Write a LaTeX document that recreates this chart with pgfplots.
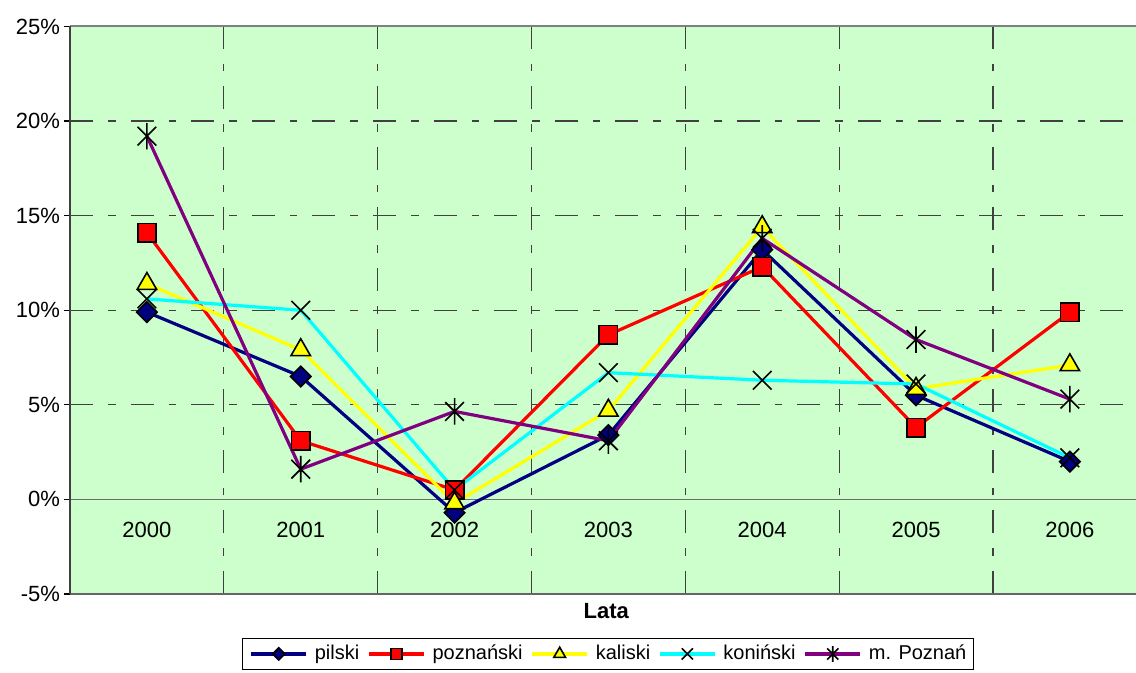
\documentclass[border=0pt]{standalone}
\usepackage{fontspec}
\setmainfont{Liberation Sans}
\usepackage{pgfplots}
\pgfplotsset{compat=1.18}
\definecolor{plotbg}{HTML}{CCFFCC}
\definecolor{gridc}{HTML}{404040}
\definecolor{pilc}{HTML}{000080}
\definecolor{pozc}{HTML}{FF0000}
\definecolor{kalc}{HTML}{FFFF00}
\definecolor{konc}{HTML}{00FFFF}
\definecolor{mpc}{HTML}{800080}
\makeatletter
\pgfdeclareplotmark{xstar}{%
  \pgfpathmoveto{\pgfqpoint{-.70710678\pgfplotmarksize}{-.70710678\pgfplotmarksize}}%
  \pgfpathlineto{\pgfqpoint{.70710678\pgfplotmarksize}{.70710678\pgfplotmarksize}}%
  \pgfpathmoveto{\pgfqpoint{-.70710678\pgfplotmarksize}{.70710678\pgfplotmarksize}}%
  \pgfpathlineto{\pgfqpoint{.70710678\pgfplotmarksize}{-.70710678\pgfplotmarksize}}%
  \pgfpathmoveto{\pgfqpoint{0pt}{-\pgfplotmarksize}}%
  \pgfpathlineto{\pgfqpoint{0pt}{\pgfplotmarksize}}%
  \pgfusepathqstroke
}
\makeatother
\begin{document}
\begin{tikzpicture}[font=\fontsize{11pt}{13pt}\selectfont]
\useasboundingbox (0,0) rectangle (568pt,336.5pt);
\begin{axis}[
  at={(35pt,39.5pt)}, anchor=south west,
  scale only axis, width=533pt, height=283.75pt,
  xmin=-0.5, xmax=6.43, ymin=-5, ymax=25,
  axis background/.style={fill=plotbg},
  axis line style={draw=none},
  xtick={0,...,6},
  xticklabels={2000,2001,2002,2003,2004,2005,2006},
  major x tick style={draw=none},
  xticklabel style={anchor=center, yshift=35pt},
  minor xtick={0.5,1.5,2.5,3.5,4.5,5.5},
  xminorgrids=true,
  minor tick length=0pt,
  ytick={-5,0,5,10,15,20,25},
  yticklabel={\pgfmathprintnumber{\tick}\%},
  yticklabel style={xshift=1.5pt},
  /pgf/number format/assume math mode=true,
  ymajorgrids=true,
  ytick pos=left,
  tick align=outside,
  major tick length=3pt,
  every tick/.style={black, line width=0.6pt},
  grid style={gridc, line width=0.6pt, dash pattern=on 11.5pt off 7.5pt on 3.8pt off 7.5pt},
  extra y ticks={0},
  extra y tick labels={},
  extra y tick style={grid=major, major grid style={solid, draw=gray!85!black, line width=0.9pt}},
  xlabel={\bfseries Lata},
  xlabel style={at={(axis description cs:0.503,0)}, anchor=center, yshift=-8.5pt},
  legend columns=5,
  legend cell align=left,
  legend style={at={(0.5047,0)}, anchor=north, yshift=-22pt, draw=black, line width=0.5pt,
    fill=white, inner xsep=3.5pt, inner ysep=1.5pt,
    font=\fontsize{10pt}{12pt}\selectfont,
    /tikz/every odd column/.append style={column sep=3.5pt},
    /tikz/every even column/.append style={column sep=4pt},
    nodes={inner xsep=0pt, inner ysep=1.8pt}},
  legend image code/.code={\draw[mark repeat=2,mark phase=2,#1,every mark/.append style={scale=0.6}] plot coordinates {(0pt,0pt)(13.75pt,0pt)(27.5pt,0pt)};},
  every axis plot/.append style={line width=1.6pt},
  clip=false,
]
\addplot[pilc, mark=square*, mark size=3.6pt, mark options={rotate=45, fill=pilc, draw=black, line width=0.8pt}]
  coordinates {(0,9.9)(1,6.5)(2,-0.7)(3,3.4)(4,13.2)(5,5.5)(6,2.0)};
\addlegendentry{pilski}
\addplot[pozc, mark=square*, mark size=4.6pt, mark options={fill=pozc, draw=black, line width=0.8pt}]
  coordinates {(0,14.1)(1,3.1)(2,0.5)(3,8.7)(4,12.3)(5,3.8)(6,9.9)};
\addlegendentry{poznański}
\addplot[kalc, mark=triangle*, mark size=5.6pt, mark options={fill=kalc, draw=black, line width=0.8pt}]
  coordinates {(0,11.4)(1,7.9)(2,-0.2)(3,4.7)(4,14.4)(5,5.85)(6,7.1)};
\addlegendentry{kaliski}
\addplot[konc, mark=x, mark size=6.6pt, mark options={draw=black, line width=0.8pt}]
  coordinates {(0,10.6)(1,10.0)(2,0.5)(3,6.7)(4,6.3)(5,6.1)(6,2.2)};
\addlegendentry{koniński}
\addplot[mpc, mark=xstar, mark size=6.6pt, mark options={draw=black, line width=0.8pt}]
  coordinates {(0,19.2)(1,1.6)(2,4.65)(3,3.1)(4,13.8)(5,8.45)(6,5.3)};
\addlegendentry{m. Poznań}
\draw[gray, line width=1pt] (rel axis cs:0,1) -- (rel axis cs:1,1);
\draw[gray!80!black, line width=1pt] (rel axis cs:0,0) -- (rel axis cs:1,0);
\draw[black!75, line width=1pt] (rel axis cs:0,0) -- (rel axis cs:0,1);
\end{axis}
\end{tikzpicture}
\end{document}
